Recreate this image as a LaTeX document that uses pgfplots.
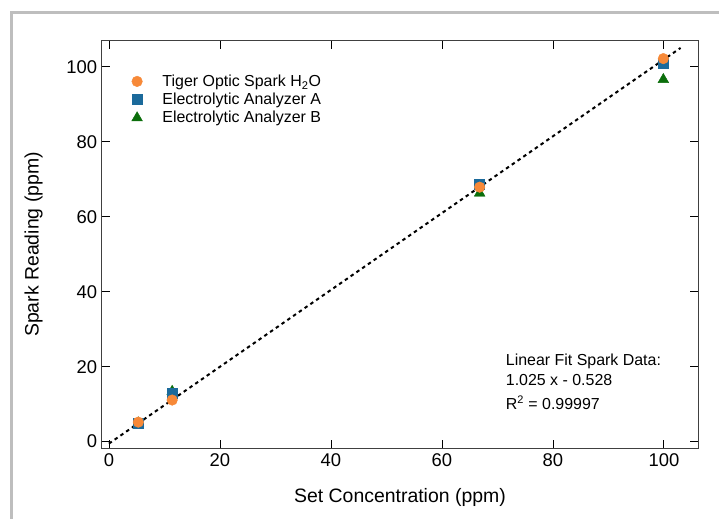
\documentclass[border=0pt]{standalone}
\usepackage{fontspec}
\setmainfont{Liberation Sans}
\usepackage{pgfplots}
\pgfplotsset{compat=1.18}
\definecolor{sporange}{RGB}{247,137,56}
\definecolor{spblue}{RGB}{27,106,155}
\definecolor{spgreen}{RGB}{11,110,11}
\definecolor{framegray}{RGB}{190,190,190}
\begin{document}
\begin{tikzpicture}
\useasboundingbox (0bp,0bp) rectangle (719bp,519bp);
\fill[white] (0bp,0bp) rectangle (719bp,519bp);
\draw[framegray, line width=3bp] (11bp,0bp) -- (11bp,506bp) -- (719bp,506bp);
\begin{axis}[
  at={(101.7bp,71bp)}, anchor=south west,
  scale only axis, width=596.6bp, height=407bp,
  xmin=-1.3, xmax=106.2, ymin=-1.7, ymax=106.9,
  xtick={0,20,40,60,80,100}, ytick={0,20,40,60,80,100},
  tick align=inside, major tick length=8bp,
  tick style={black, line width=0.8bp},
  axis line style={black!75, line width=1bp},
  /pgf/number format/assume math mode=true,
  ticklabel style={font=\fontsize{18.5}{20}\selectfont},
  xticklabel style={yshift=-2bp},
  yticklabel style={xshift=-1bp},
  xlabel={Set Concentration (ppm)},
  ylabel={Spark Reading (ppm)},
  label style={font=\fontsize{19.5}{22}\selectfont},
  xlabel style={at={(axis description cs:0.5,-0.1204)}, anchor=center},
  ylabel style={at={(axis description cs:-0.114,0.5)}, anchor=center},
  legend style={draw=none, fill=none, at={(0.045,0.927)}, anchor=north west,
    font=\fontsize{16}{17}\selectfont, row sep=1.2bp, column sep=18bp},
  legend cell align=left,
  reverse legend,
  clip=false,
]
\addplot[black, line width=2bp, dash pattern=on 3.5bp off 3.5bp, forget plot]
  coordinates {(0,-0.528) (103,105.05)};
\addplot[only marks, mark=triangle*, mark size=6.2bp, color=spgreen, mark options={draw=spgreen, fill=spgreen}]
  coordinates {(5.3,5.0) (11.4,13.4) (66.8,66.3) (99.9,96.6)};
\addlegendentry{Electrolytic Analyzer B}
\addplot[only marks, mark=square*, mark size=5bp, color=spblue, mark options={draw=spblue, fill=spblue}]
  coordinates {(5.3,4.8) (11.4,12.8) (66.8,68.6) (99.9,101.0)};
\addlegendentry{Electrolytic Analyzer A}
\addplot[only marks, mark=*, mark size=5.3bp, color=sporange, mark options={draw=sporange, fill=sporange}]
  coordinates {(5.3,5.2) (11.4,11.1) (66.8,67.9) (99.9,102.2)};
\addlegendentry{Tiger Optic Spark H\textsubscript{2}O}
\node[anchor=north west, align=left, inner sep=0pt, font=\fontsize{16}{19.5}\selectfont]
  at (axis cs:71.5,23.4) {Linear Fit Spark Data:\\1.025 x - 0.528\\[5bp]R$^{\hbox{\fontsize{11}{11}\selectfont 2}}$ = 0.99997};
\end{axis}
\end{tikzpicture}
\end{document}
